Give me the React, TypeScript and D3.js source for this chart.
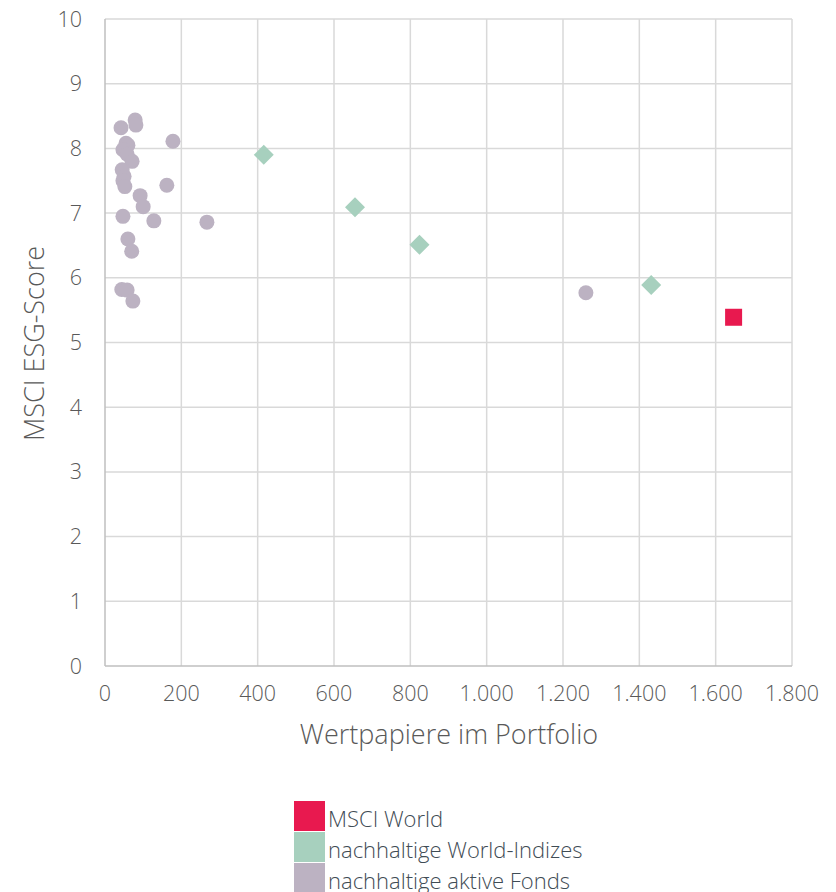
import React from "react";
import * as d3 from "d3";

const fondsX = [42, 79, 81, 178, 55, 60, 47, 58, 71, 45, 50, 47, 52, 162, 92, 100, 47, 128, 267, 60, 70, 44, 58, 73, 1260];
const fondsY = [8.32, 8.44, 8.36, 8.11, 8.08, 8.05, 7.98, 7.91, 7.8, 7.67, 7.57, 7.5, 7.41, 7.43, 7.27, 7.1, 6.95, 6.88, 6.86, 6.6, 6.41, 5.82, 5.81, 5.64, 5.77];
const indexX = [416, 655, 824, 1431];
const indexY = [7.9, 7.09, 6.51, 5.89];
const msciX = [1647];
const msciY = [5.39];
const xTicks = [0, 200, 400, 600, 800, 1000, 1200, 1400, 1600, 1800];
const yTicks = [0, 1, 2, 3, 4, 5, 6, 7, 8, 9, 10];
const legendLabels = ["MSCI World", "nachhaltige World-Indizes", "nachhaltige aktive Fonds"];
const legendColors = ["#E8194F", "#A7D0BE", "#BCB2C2"];

const W = 836;
const H = 892;
const left = 105;
const right = 792;
const top = 19;
const bottom = 666;

const fmt = (v: number) => (v >= 1000 ? d3.format(",")(v).replace(/,/g, ".") : String(v));

export default function App() {
  const x = d3.scaleLinear().domain([0, 1800]).range([left, right]);
  const y = d3.scaleLinear().domain([0, 10]).range([bottom, top]);
  const font = "'Open Sans', Lato, sans-serif";
  const diamond = d3.symbol().type(d3.symbolSquare).size(200)();
  return (
    <svg width={W} height={H} style={{ position: "absolute", left: 0, top: 0 }} fontFamily={font}>
      <rect width={W} height={H} fill="#fff" />
      {xTicks.slice(1).map((t) => (
        <line key={"gx" + t} x1={x(t)} x2={x(t)} y1={top} y2={bottom} stroke="#d9d9d9" strokeWidth={1.5} />
      ))}
      {yTicks.slice(1).map((t) => (
        <line key={"gy" + t} x1={left} x2={right} y1={y(t)} y2={y(t)} stroke="#d9d9d9" strokeWidth={1.5} />
      ))}
      <line x1={left} x2={left} y1={top} y2={bottom} stroke="#bfbfbf" strokeWidth={1.5} />
      <line x1={left} x2={right} y1={bottom} y2={bottom} stroke="#bfbfbf" strokeWidth={1.5} />
      {yTicks.map((t) => (
        <text key={"ty" + t} x={82} y={y(t)} dy="0.35em" textAnchor="end" fontSize={21.5} fontWeight={300} fill="#595959">
          {t}
        </text>
      ))}
      {xTicks.map((t) => (
        <text key={"tx" + t} x={x(t)} y={693} dy="0.35em" textAnchor="middle" fontSize={21.5} fontWeight={300} fill="#595959">
          {fmt(t)}
        </text>
      ))}
      <text x={449} y={735} dy="0.35em" textAnchor="middle" fontSize={27} fontWeight={300} fill="#595959">
        Wertpapiere im Portfolio
      </text>
      <text transform={`translate(35,${(top + bottom) / 2 + 1}) rotate(-90)`} dy="0.35em" textAnchor="middle" fontSize={27} fontWeight={300} fill="#595959">
        MSCI ESG-Score
      </text>
      {fondsX.map((v, i) => (
        <circle key={"f" + i} cx={x(v)} cy={y(fondsY[i])} r={7.5} fill={legendColors[2]} />
      ))}
      {indexX.map((v, i) => (
        <path key={"i" + i} d={diamond || ""} transform={`translate(${x(v)},${y(indexY[i])}) rotate(45)`} fill={legendColors[1]} />
      ))}
      {msciX.map((v, i) => (
        <rect key={"m" + i} x={x(v) - 8.5} y={y(msciY[i]) - 8.5} width={17} height={17} fill={legendColors[0]} />
      ))}
      {legendLabels.map((l, i) => (
        <g key={"l" + i} transform={`translate(294,${801 + i * 31})`}>
          <rect width={31} height={30} fill={legendColors[i]} />
          <text x={34} y={18} dy="0.35em" fontSize={22} fontWeight={300} fill="#3f4c55">
            {l}
          </text>
        </g>
      ))}
    </svg>
  );
}
